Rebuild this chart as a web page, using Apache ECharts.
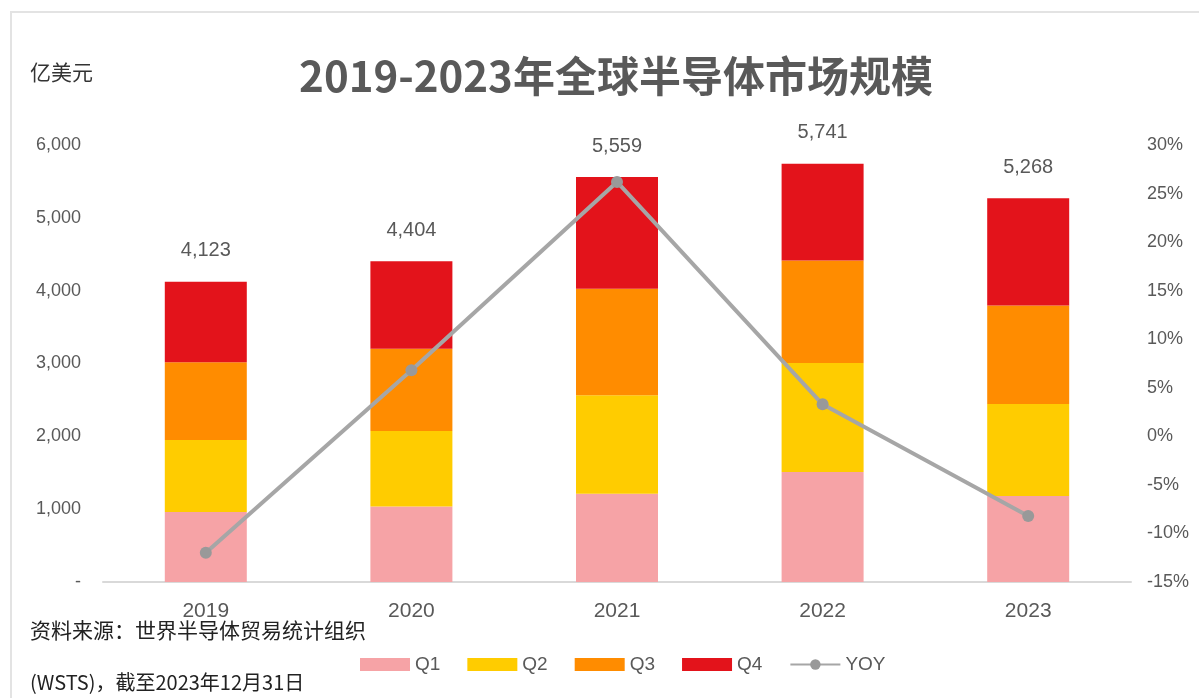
<!DOCTYPE html>
<html><head><meta charset="utf-8">
<script src="https://cdn.jsdelivr.net/npm/echarts@6/dist/echarts.min.js"></script>
<style>html,body{margin:0;padding:0;background:#fff}#c{width:1199px;height:698px}</style>
</head><body><div id="c"></div>
<script>
const categories = ['2019','2020','2021','2022','2023'];
const q1 = [962, 1035, 1213, 1511, 1181];
const q2 = [989, 1039, 1351, 1497, 1264];
const q3 = [1067, 1127, 1461, 1406, 1350];
const q4 = [1105, 1203, 1534, 1327, 1473];
const totals = [4123, 4404, 5559, 5741, 5268];
const yoy = [-12.0, 6.8, 26.2, 3.3, -8.2];

const FONT = '"Liberation Sans","Noto Sans CJK SC",sans-serif';
const CJK = '"Noto Sans CJK SC",sans-serif';
const chart = echarts.init(document.getElementById('c'));
const fmt = n => n.toLocaleString('en-US');
chart.setOption({
  animation: false,
  backgroundColor: '#fff',
  title: {
    text: '2019-2023年全球半导体市场规模',
    left: 611, top: 50, textAlign: 'center',
    textStyle: {fontFamily: CJK, fontSize: 42, fontWeight: 'bold', color: '#595959'}
  },
  graphic: [
    {type: 'rect', shape: {x: 11, y: 12, width: 1300, height: 800}, style: {fill: 'none', stroke: '#e3e3e3', lineWidth: 2}, silent: true},
    {type: 'text', left: 30, top: 62, style: {text: '亿美元', fontFamily: CJK, fontSize: 21, fill: '#333'}},
    {type: 'text', left: 30, top: 620, style: {text: '资料来源：世界半导体贸易统计组织', fontFamily: CJK, fontSize: 21, fill: '#222'}},
    {type: 'text', left: 30, top: 672, style: {text: '(WSTS)，截至2023年12月31日', fontFamily: CJK, fontSize: 20, fill: '#222'}}
  ],
  legend: {
    left: 355, top: 650, itemWidth: 50, itemHeight: 13, itemGap: 27,
    textStyle: {fontFamily: FONT, fontSize: 19, color: '#595959'},
    data: [
      {name: 'Q1', icon: 'rect'}, {name: 'Q2', icon: 'rect'}, {name: 'Q3', icon: 'rect'}, {name: 'Q4', icon: 'rect'},
      {name: 'YOY'}
    ]
  },
  grid: {left: 103, right: 68, top: 145, bottom: 116},
  xAxis: {
    type: 'category', data: categories,
    axisLine: {lineStyle: {color: '#d9d9d9', width: 2}},
    axisTick: {show: false},
    axisLabel: {fontFamily: FONT, fontSize: 21, color: '#595959', margin: 19}
  },
  yAxis: [
    {type: 'value', min: 0, max: 6000, interval: 1000,
     splitLine: {show: false}, axisLine: {show: false}, axisTick: {show: false},
     axisLabel: {fontFamily: FONT, fontSize: 18, color: '#595959', margin: 22,
       formatter: v => v === 0 ? '-' : fmt(v)}},
    {type: 'value', min: -15, max: 30, interval: 5,
     splitLine: {show: false}, axisLine: {show: false}, axisTick: {show: false},
     axisLabel: {fontFamily: FONT, fontSize: 18, color: '#595959', margin: 16, formatter: '{value}%'}}
  ],
  series: [
    {name: 'Q1', type: 'bar', stack: 't', data: q1, barWidth: 82, itemStyle: {color: '#f6a3a6'}},
    {name: 'Q2', type: 'bar', stack: 't', data: q2, itemStyle: {color: '#ffcc00'}},
    {name: 'Q3', type: 'bar', stack: 't', data: q3, itemStyle: {color: '#ff8c00'}},
    {name: 'Q4', type: 'bar', stack: 't', data: q4, itemStyle: {color: '#e3131b'},
     label: {show: true, position: 'top', distance: 21, fontFamily: FONT, fontSize: 20, color: '#595959',
       formatter: p => fmt(totals[p.dataIndex])}},
    {name: 'YOY', type: 'line', yAxisIndex: 1, data: yoy, symbol: 'circle', symbolSize: 12,
     lineStyle: {color: '#a6a6a6', width: 4}, itemStyle: {color: '#999999'}, z: 5}
  ]
});
</script></body></html>
